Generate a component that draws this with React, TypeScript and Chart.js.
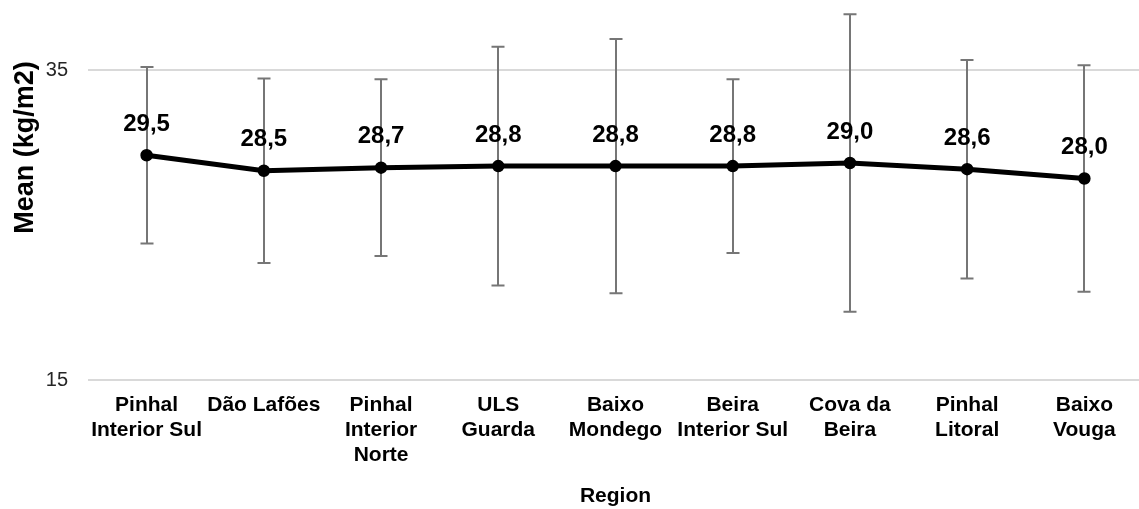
import React, { useEffect, useRef } from "react";
import { Chart, registerables } from "chart.js";

Chart.register(...registerables);

// Regions (multi-line axis labels)
const regions: string[][] = [
  ["Pinhal", "Interior Sul"],
  ["Dão Lafões"],
  ["Pinhal", "Interior", "Norte"],
  ["ULS", "Guarda"],
  ["Baixo", "Mondego"],
  ["Beira", "Interior Sul"],
  ["Cova da", "Beira"],
  ["Pinhal", "Litoral"],
  ["Baixo", "Vouga"],
];

// Mean BMI per region (kg/m2)
const means: number[] = [29.5, 28.5, 28.7, 28.8, 28.8, 28.8, 29.0, 28.6, 28.0];

// Standard deviation per region (symmetric error bars)
const sds: number[] = [5.7, 5.95, 5.7, 7.7, 8.2, 5.6, 9.6, 7.05, 7.3];

const yTicks: number[] = [15, 35];
const yMin = 15;
const yMax = 39;

const yTitle = "Mean (kg/m2)";
const xTitle = "Region";

const FONT = "'Liberation Sans', Arial, sans-serif";

const fmt = (v: number) => v.toFixed(1).replace(".", ",");

const errorBarsPlugin = {
  id: "errorBars",
  beforeDatasetsDraw(chart: any) {
    const meta = chart.getDatasetMeta(0);
    const yScale = chart.scales.y;
    const ctx = chart.ctx;
    ctx.save();
    ctx.strokeStyle = "#767676";
    ctx.lineWidth = 2;
    const cap = 6.5;
    meta.data.forEach((pt: any, i: number) => {
      const x = Math.round(pt.x);
      const top = yScale.getPixelForValue(means[i] + sds[i]);
      const bottom = yScale.getPixelForValue(means[i] - sds[i]);
      ctx.beginPath();
      ctx.moveTo(x, top);
      ctx.lineTo(x, bottom);
      ctx.moveTo(x - cap, top);
      ctx.lineTo(x + cap, top);
      ctx.moveTo(x - cap, bottom);
      ctx.lineTo(x + cap, bottom);
      ctx.stroke();
    });
    ctx.restore();
  },
};

const valueLabelsPlugin = {
  id: "valueLabels",
  afterDatasetsDraw(chart: any) {
    const meta = chart.getDatasetMeta(0);
    const ctx = chart.ctx;
    ctx.save();
    ctx.fillStyle = "#000000";
    ctx.font = `bold 24px ${FONT}`;
    ctx.textAlign = "center";
    ctx.textBaseline = "middle";
    meta.data.forEach((pt: any, i: number) => {
      ctx.fillText(fmt(means[i]), pt.x, pt.y - 31);
    });
    ctx.restore();
  },
};

const axisTitlesPlugin = {
  id: "axisTitles",
  afterDraw(chart: any) {
    const ctx = chart.ctx;
    const area = chart.chartArea;
    ctx.save();
    ctx.fillStyle = "#000000";
    // vertical axis title
    ctx.font = `bold 27px ${FONT}`;
    ctx.textAlign = "center";
    ctx.textBaseline = "alphabetic";
    ctx.translate(33, 147.5);
    ctx.rotate(-Math.PI / 2);
    ctx.fillText(yTitle, 0, 0);
    ctx.restore();

    ctx.save();
    ctx.fillStyle = "#000000";
    ctx.font = `bold 21px ${FONT}`;
    ctx.textAlign = "center";
    ctx.textBaseline = "alphabetic";
    ctx.fillText(xTitle, (area.left + area.right) / 2, 501.5);
    ctx.restore();
  },
};

export default function App() {
  const canvasRef = useRef<HTMLCanvasElement | null>(null);

  useEffect(() => {
    const canvas = canvasRef.current;
    if (!canvas) return;
    const chart = new Chart(canvas, {
      type: "line",
      data: {
        labels: regions,
        datasets: [
          {
            data: means,
            borderColor: "#000000",
            backgroundColor: "#000000",
            borderWidth: 5,
            pointRadius: 5.5,
            pointBorderWidth: 1.5,
            pointBackgroundColor: "#000000",
            pointBorderColor: "#000000",
            tension: 0,
            fill: false,
          },
        ],
      },
      options: {
        responsive: false,
        animation: false,
        devicePixelRatio: 1,
        layout: { padding: { top: 8, left: 0, right: 7, bottom: 0 } },
        plugins: {
          legend: { display: false },
          tooltip: { enabled: false },
          title: { display: false },
        },
        scales: {
          x: {
            type: "category",
            offset: true,
            grid: { display: false, drawTicks: false },
            border: { display: false },
            ticks: {
              autoSkip: false,
              maxRotation: 0,
              minRotation: 0,
              padding: 13,
              color: "#000000",
              font: { family: FONT, size: 21, weight: "bold", lineHeight: 25 / 21 },
            },
            afterFit(scale: any) {
              scale.height = 129;
              scale.paddingLeft = 0;
              scale.paddingRight = 0;
            },
          },
          y: {
            min: yMin,
            max: yMax,
            grid: { color: "#d9d9d9", lineWidth: 2, drawTicks: false },
            border: { display: false },
            ticks: {
              padding: 20,
              color: "#262626",
              font: { family: FONT, size: 20 },
            },
            afterBuildTicks(scale: any) {
              scale.ticks = yTicks.map((v) => ({ value: v }));
            },
            afterFit(scale: any) {
              scale.width = 88;
              scale.paddingTop = 0;
              scale.paddingBottom = 0;
            },
          },
        },
      },
      plugins: [errorBarsPlugin, valueLabelsPlugin, axisTitlesPlugin],
    });
    return () => chart.destroy();
  }, []);

  return (
    <div
      style={{
        position: "absolute",
        left: 0,
        top: 0,
        width: 1139,
        height: 509,
        overflow: "hidden",
        background: "#ffffff",
      }}
    >
      <canvas ref={canvasRef} width={1150} height={509} style={{ display: "block" }} />
    </div>
  );
}
